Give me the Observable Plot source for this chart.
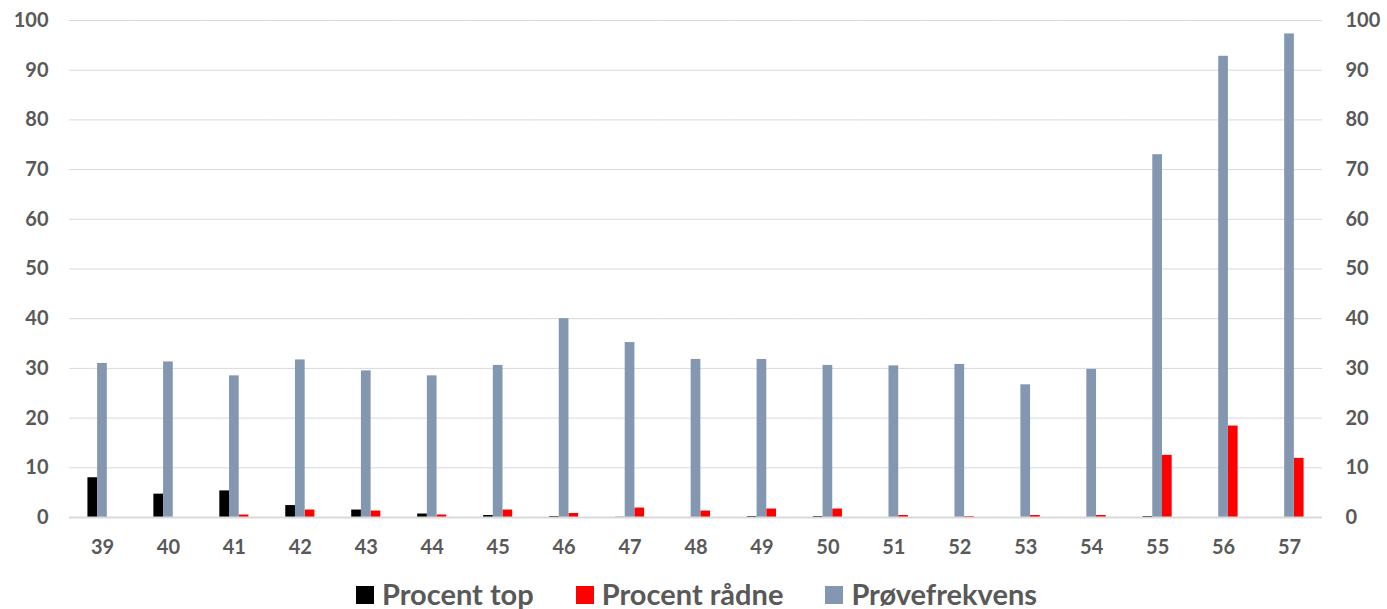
<!DOCTYPE html>
<html>
<head>
<meta charset="utf-8">
<script src="https://cdn.jsdelivr.net/npm/d3@7"></script>
<script src="https://cdn.jsdelivr.net/npm/@observablehq/plot@0.6"></script>
<style>
  html, body { margin: 0; padding: 0; background: #fff; }
  #wrap { width: 1387px; height: 609px; overflow: hidden; }
  #legend { display: flex; justify-content: center; align-items: center; height: 46px; font-family: Lato, "Open Sans", sans-serif; font-weight: bold; font-size: 29px; line-height: 29px; color: #595959; padding-left: 6px; }
  .item { display: flex; align-items: center; margin: 0 21px; }
  .sw { width: 18px; height: 18px; margin-right: 8px; margin-top: 3px; }
</style>
</head>
<body>
<div id="wrap"><div id="chart"></div><div id="legend"></div></div>
<script>
const weeks = ["39","40","41","42","43","44","45","46","47","48","49","50","51","52","53","54","55","56","57"];
const seriesNames = ["Procent top", "Procent rådne", "Prøvefrekvens"];
const seriesColors = ["#000000", "#ff0000", "#8497b0"];
const barOrder = ["Procent top", "Prøvefrekvens", "Procent rådne"];
const procentTop = [8.0, 4.7, 5.35, 2.4, 1.5, 0.7, 0.4, 0.2, 0.05, 0, 0.2, 0.2, 0, 0, 0, 0, 0.2, 0, 0];
const procentRaadne = [0, 0, 0.5, 1.5, 1.3, 0.5, 1.5, 0.8, 1.9, 1.3, 1.7, 1.7, 0.4, 0.2, 0.4, 0.4, 12.5, 18.4, 11.9];
const proevefrekvens = [31, 31.3, 28.5, 31.7, 29.5, 28.5, 30.6, 40, 35.2, 31.8, 31.8, 30.6, 30.5, 30.8, 26.7, 29.8, 73, 92.8, 97.3];
const yTicks = [0, 10, 20, 30, 40, 50, 60, 70, 80, 90, 100];

const valuesBySeries = [procentTop, procentRaadne, proevefrekvens];
const data = [];
seriesNames.forEach((s, i) => {
  weeks.forEach((w, j) => data.push({week: w, series: s, value: valuesBySeries[i][j]}));
});

const font = "Lato, 'Open Sans', sans-serif";
const chart = Plot.plot({
  width: 1387,
  height: 570,
  marginLeft: 69,
  marginRight: 65,
  marginTop: 20,
  marginBottom: 53,
  style: {fontFamily: font, fontWeight: "bold", fontSize: "20px", color: "#595959", background: "#fff"},
  fx: {domain: weeks, padding: 0, round: false, label: null, axis: null},
  x: {domain: barOrder, paddingInner: 0, paddingOuter: 1.9, round: false, axis: null},
  y: {domain: [0, 100], axis: null},
  color: {domain: seriesNames, range: seriesColors},
  marks: [
    Plot.ruleY(yTicks.filter(d => d > 0), {stroke: "#d9d9d9", strokeWidth: 1}),
    Plot.barY(data, {fx: "week", x: "series", y: "value", fill: "series"}),
    Plot.ruleY([0], {stroke: "#d9d9d9", strokeWidth: 2}),
    Plot.axisY(yTicks, {anchor: "left", tickSize: 0, tickPadding: 21, label: null, facetAnchor: "left", fill: "#595959"}),
    Plot.axisY(yTicks, {anchor: "right", tickSize: 0, tickPadding: 23, label: null, facetAnchor: "right", fill: "#595959"}),
    Plot.axisFx({anchor: "bottom", tickSize: 0, tickPadding: 22, label: null, fill: "#595959"})
  ]
});
document.getElementById("chart").appendChild(chart);

const legend = document.getElementById("legend");
seriesNames.forEach((s, i) => {
  const item = document.createElement("div");
  item.className = "item";
  const sw = document.createElement("span");
  sw.className = "sw";
  sw.style.background = seriesColors[i];
  const t = document.createElement("span");
  t.textContent = s;
  item.appendChild(sw);
  item.appendChild(t);
  legend.appendChild(item);
});
</script>
</body>
</html>
